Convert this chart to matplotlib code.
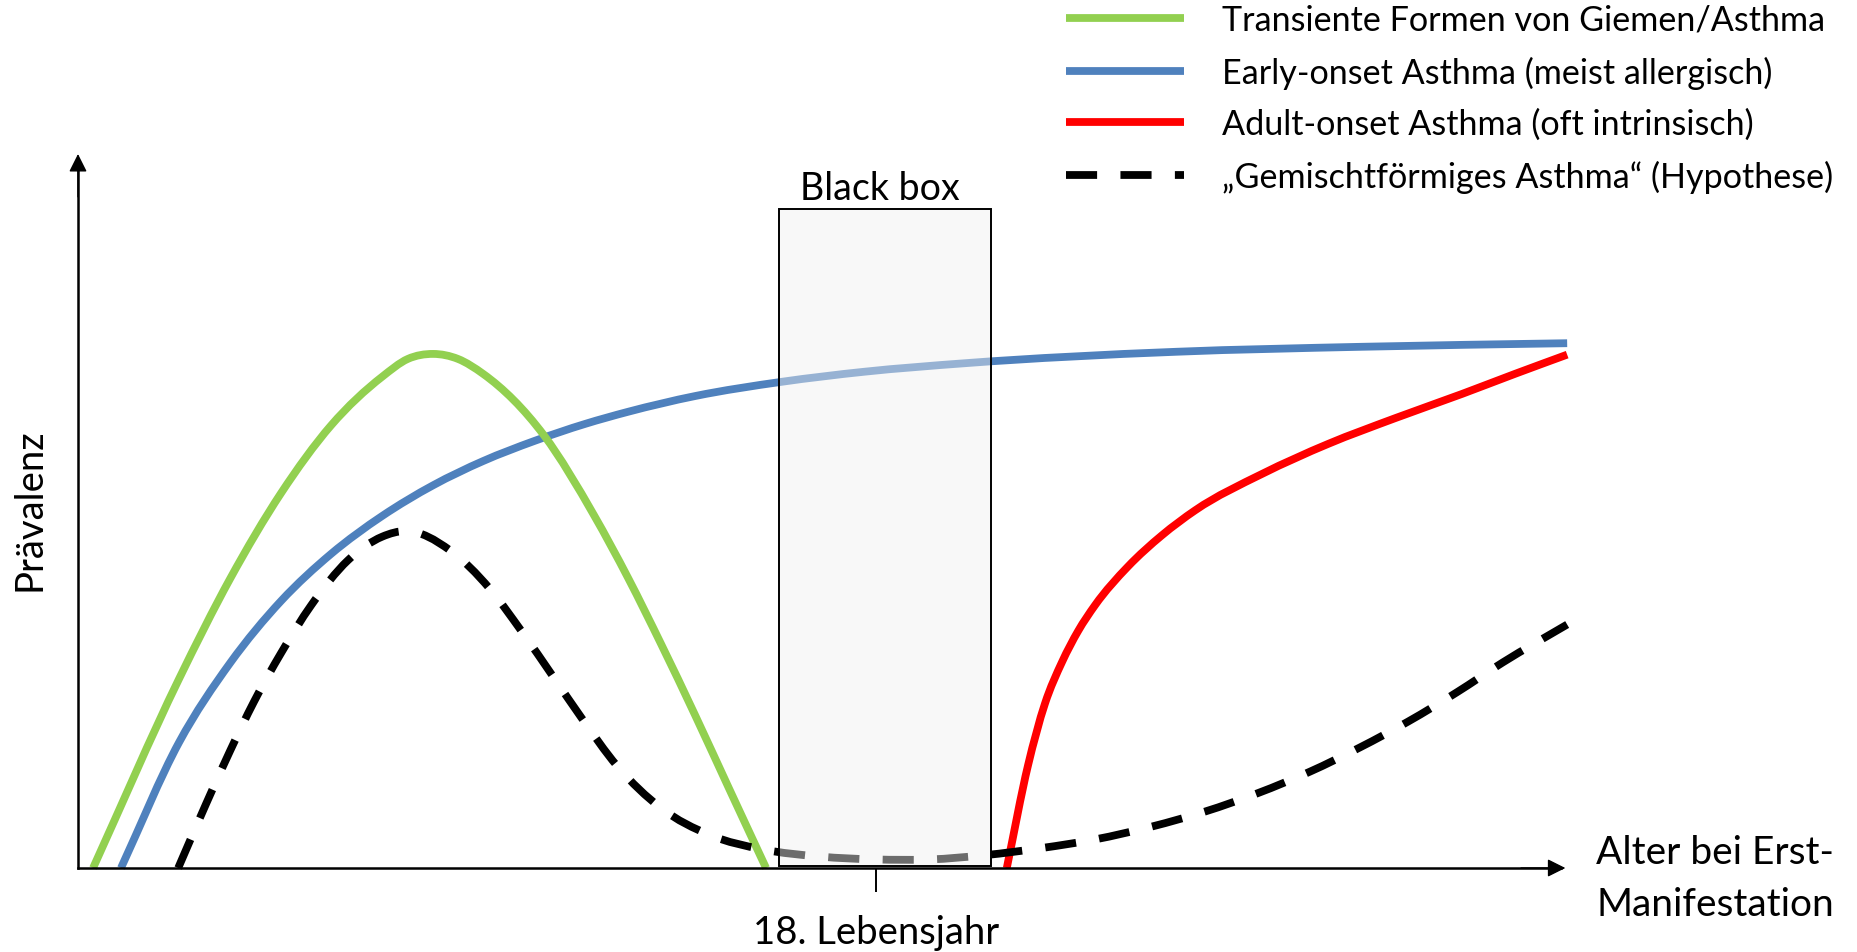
import matplotlib
matplotlib.use("Agg")
import matplotlib.pyplot as plt
import numpy as np
from matplotlib.patches import Rectangle, PathPatch
from matplotlib.path import Path
from matplotlib.lines import Line2D

plt.rcParams['font.family'] = ['Lato', 'DejaVu Sans']

# ---------------- data (age at first manifestation, prevalence in % of axis) ----------------
green_age = [0.34, 2.28, 3.43, 4.58, 5.71, 6.86, 7.44, 8.01, 8.57, 9.14, 10.51, 11.64, 12.41,
             13.15, 13.92, 14.68, 15.52]
green_prev = [0, 26.5, 40.5, 52.5, 62.0, 68.8, 71.3, 72.0, 71.3, 69.2, 60.6, 49.4, 40.6,
              31.4, 21.4, 11.2, 0]

blue_age = [0.97, 2.28, 3.43, 4.58, 5.71, 6.86, 8.01, 9.14, 10.29, 11.44, 12.41, 13.92,
            15.88, 17.73, 20.01, 24.77, 28.96, 33.59]
blue_prev = [0, 17.6, 28.7, 37.4, 44.0, 49.3, 53.6, 57.0, 59.8, 62.2, 63.9, 66.1,
             68.1, 69.5, 70.7, 72.3, 73.0, 73.5]

red_age = [20.95, 21.43, 21.81, 22.20, 22.56, 22.94, 23.68, 24.45, 25.20, 26.71, 28.20,
           29.71, 31.22, 32.41, 33.59]
red_prev = [0, 14.4, 23.0, 28.9, 33.2, 36.8, 42.2, 46.6, 50.1, 55.2, 59.4,
            63.0, 66.4, 69.2, 71.9]

mixed_age = [2.26, 2.89, 3.43, 3.97, 4.58, 5.26, 6.09, 6.86, 7.40, 8.39, 9.29, 9.99,
             10.74, 11.35, 12.16, 13.15, 14.26, 15.45, 16.74, 17.98, 19.22, 20.46, 21.74,
             22.94, 24.22, 25.42, 26.62, 27.79, 28.92, 30.00, 31.10, 32.14, 33.59]
mixed_prev = [0, 9.0, 16.4, 23.3, 30.1, 36.8, 43.1, 46.4, 47.2, 44.5, 39.1, 33.3,
              26.6, 21.1, 14.3, 8.4, 4.6, 2.6, 1.6, 1.2, 1.2, 1.8, 2.8,
              4.0, 5.8, 7.9, 10.5, 13.5, 16.9, 20.5, 24.6, 28.8, 34.1]

series_labels = ["Transiente Formen von Giemen/Asthma",
                 "Early-onset Asthma (meist allergisch)",
                 "Adult-onset Asthma (oft intrinsisch)",
                 "\u201eGemischtf\u00f6rmiges Asthma\u201c (Hypothese)"]

black_box_age = [15.81, 20.59]      # range of the "Black box"
black_box_top = 92.3
tick_ages = [18]
tick_labels = ["18. Lebensjahr"]
x_axis_end = 33.55
y_axis_end = 100

# ---------------- figure / pixel-aligned axes ----------------
W, H = 1857, 953
fig = plt.figure(figsize=(W / 100, H / 100), dpi=100)
ax = fig.add_axes([0, 0, 1, 1])
x0_px, x18_px = 78, 876
y0_px, y100_px = 869, 155
sx = 18 / (x18_px - x0_px)
sy = 100 / (y0_px - y100_px)
ax.set_xlim(-x0_px * sx, (W - x0_px) * sx)
ax.set_ylim(-(H - y0_px) * sy, y0_px * sy)


def fx(px):
    return px / W


def fy(py):
    return 1 - py / H


def smooth_path(xs, ys):
    """Cubic Hermite (Bezier) path through the points, tangents from neighbouring secants."""
    x = np.asarray(xs, float)
    y = np.asarray(ys, float)
    n = len(x)
    h = np.diff(x)
    d = np.diff(y) / h
    m = np.empty(n)
    m[0], m[-1] = d[0], d[-1]
    for i in range(1, n - 1):
        m[i] = (h[i] * d[i - 1] + h[i - 1] * d[i]) / (h[i - 1] + h[i])
    verts = [(x[0], y[0])]
    codes = [Path.MOVETO]
    for i in range(n - 1):
        verts += [(x[i] + h[i] / 3, y[i] + m[i] * h[i] / 3),
                  (x[i + 1] - h[i] / 3, y[i + 1] - m[i + 1] * h[i] / 3),
                  (x[i + 1], y[i + 1])]
        codes += [Path.CURVE4] * 3
    return Path(verts, codes)


lw = 5.6
dash = (4.0, 3.0)
styles = [
    (green_age, green_prev, '#92d050', '-', 3.1),
    (blue_age, blue_prev, '#4f81bd', '-', 3.0),
    (red_age, red_prev, '#ff0000', '-', 3.2),
    (mixed_age, mixed_prev, 'black', (0, dash), 3.3),
]
handles = []
for (xs, ys, col, ls, z), lab in zip(styles, series_labels):
    ax.add_patch(PathPatch(smooth_path(xs, ys), facecolor='none', edgecolor=col, lw=lw,
                           linestyle=ls, capstyle='butt', joinstyle='round', zorder=z))
    if ls == '-':
        handles.append(Line2D([], [], color=col, lw=lw, solid_capstyle='butt', label=lab))
    else:
        handles.append(Line2D([], [], color=col, lw=lw, dashes=dash, dash_capstyle='butt',
                              label=lab))

# black box (semi-transparent, above curves)
ax.add_patch(Rectangle((black_box_age[0], 0.28), black_box_age[1] - black_box_age[0],
                       black_box_top - 0.28, facecolor=(0.94, 0.94, 0.94, 0.45),
                       edgecolor='black', lw=1.4, zorder=5))
fig.text(fx(880), fy(200), "Black box", ha='center', va='baseline', fontsize=27)

# axes
for s in ['top', 'right']:
    ax.spines[s].set_visible(False)
ax.spines['left'].set_position(('data', 0))
ax.spines['bottom'].set_position(('data', 0))
ax.spines['left'].set_bounds(0, y_axis_end - 1)
ax.spines['bottom'].set_bounds(0, x_axis_end - 0.1)
for s in ['left', 'bottom']:
    ax.spines[s].set_linewidth(1.8)
    ax.spines[s].set_zorder(6)
ap = dict(arrowstyle='-|>,head_length=1.1,head_width=0.55', lw=1.0, color='black',
          shrinkA=0, shrinkB=0, mutation_scale=10)
ax.annotate('', xy=(x_axis_end, 0), xytext=(x_axis_end - 1.0, 0), arrowprops=ap, zorder=6)
ax.annotate('', xy=(0, y_axis_end), xytext=(0, y_axis_end - 6), arrowprops=ap, zorder=6)

ax.set_yticks([])
ax.set_xticks(tick_ages)
ax.set_xticklabels(tick_labels)
ax.tick_params(axis='x', direction='out', length=17, width=1.4, pad=16, labelsize=27.5)

fig.text(fx(30), fy(510), "Pr\u00e4valenz", rotation=90, ha='center', va='center',
         fontsize=27.5)
fig.text(fx(1596), fy(864), "Alter bei Erst-", ha='left', va='baseline', fontsize=28)
fig.text(fx(1596), fy(916), "Manifestation", ha='left', va='baseline', fontsize=28)

# legend
ax.legend(handles, series_labels, loc='upper left',
          bbox_to_anchor=(fx(1066), fy(5)), bbox_transform=fig.transFigure,
          frameon=False, borderpad=0, borderaxespad=0, fontsize=24.6,
          handlelength=3.45, handletextpad=1.12, labelspacing=0.57)

fig.savefig("out.png", dpi=100, facecolor='white')
